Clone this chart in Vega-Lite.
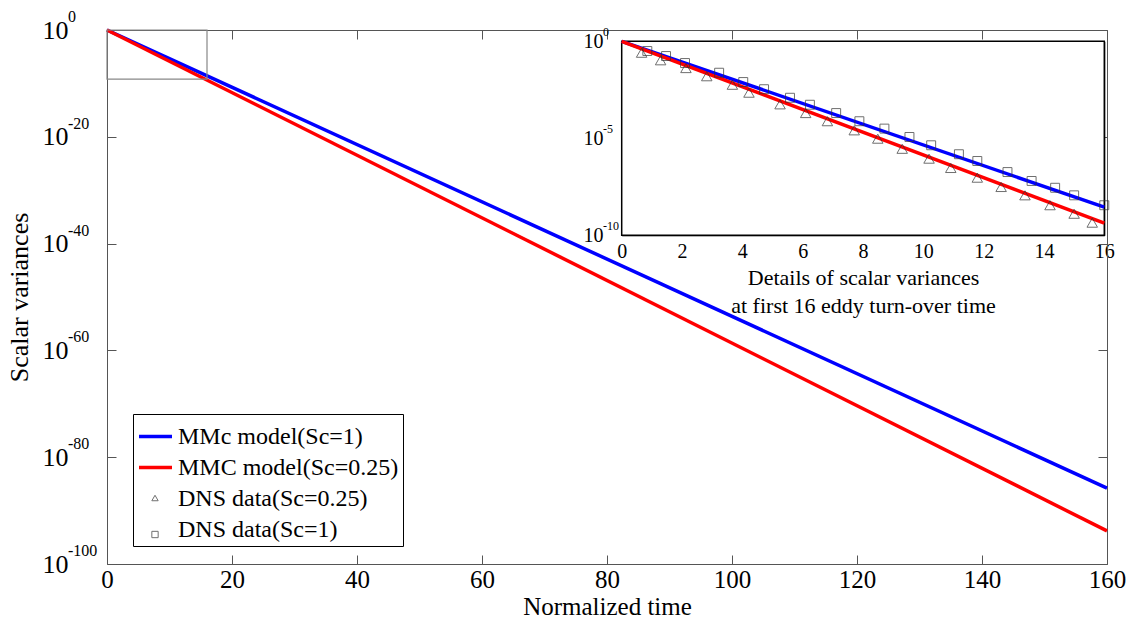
{
  "$schema": "https://vega.github.io/schema/vega-lite/v6.json",
  "width": 1000,
  "height": 534,
  "autosize": {"type": "none"},
  "padding": {"left": 107, "top": 30, "right": 26, "bottom": 58},
  "background": "white",
  "config": {
    "font": "Liberation Serif, Times New Roman, serif",
    "view": {"stroke": null},
    "text": {"font": "Liberation Serif, Times New Roman, serif"},
    "axis": {
      "labelFont": "Liberation Serif, Times New Roman, serif",
      "titleFont": "Liberation Serif, Times New Roman, serif",
      "labelColor": "black",
      "titleColor": "black",
      "titleFontWeight": "normal",
      "grid": false,
      "labelFlush": false,
      "labelOverlap": false
    }
  },
  "resolve": {"scale": {"x": "independent", "y": "independent"}},
  "layer": [
    {
      "layer": [
        {
          "data": {"values": [
            {"series": "MMc model(Sc=1)", "t": 0, "v": 1},
            {"series": "MMc model(Sc=1)", "t": 160, "v": 1.58e-86},
            {"series": "MMC model(Sc=0.25)", "t": 0, "v": 1},
            {"series": "MMC model(Sc=0.25)", "t": 160, "v": 1.58e-94}
          ]},
          "mark": {"type": "line", "strokeWidth": 3.5},
          "encoding": {
            "x": {"field": "t", "type": "quantitative",
              "scale": {"domain": [0, 160], "nice": false, "zero": false},
              "axis": {"orient": "bottom", "values": [0, 20, 40, 60, 80, 100, 120, 140, 160], "format": "d",
                "labelFontSize": 25, "tickSize": -9, "labelPadding": 12,
                "domainColor": "#555", "tickColor": "#555",
                "title": "Normalized time", "titleFontSize": 25, "titlePadding": 2}},
            "y": {"field": "v", "type": "quantitative",
              "scale": {"type": "log", "domain": [1e-100, 1], "nice": false},
              "axis": {"orient": "left", "values": [1, 1e-20, 1e-40, 1e-60, 1e-80, 1e-100],
                "labelFontSize": 26, "tickSize": -9, "labelPadding": 48,
                "domainColor": "#555", "tickColor": "#555",
                "labelExpr": "'10'",
                "title": "Scalar variances", "titleFontSize": 26, "titlePadding": 10}},
            "color": {"field": "series", "type": "nominal",
              "scale": {"domain": ["MMc model(Sc=1)", "MMC model(Sc=0.25)", "DNS data(Sc=0.25)", "DNS data(Sc=1)"],
                "range": ["#0000ff", "#ff0000", "transparent", "transparent"]},
              "legend": {"title": null, "orient": "none", "legendX": 26, "legendY": 384,
                "labelFont": "Liberation Serif, Times New Roman, serif", "labelFontSize": 24, "labelColor": "black", "labelLimit": 500,
                "strokeColor": "black", "fillColor": "white", "padding": 4, "rowPadding": 0, "labelOffset": 4,
                "symbolType": "stroke", "symbolSize": 1089, "symbolStrokeWidth": 3.5}}
          }
        },
        {
          "data": {"values": [
            {"v": 1, "e": "0"},
            {"v": 1e-20, "e": "-20"},
            {"v": 1e-40, "e": "-40"},
            {"v": 1e-60, "e": "-60"},
            {"v": 1e-80, "e": "-80"},
            {"v": 1e-100, "e": "-100"}
          ]},
          "mark": {"type": "text", "align": "left", "baseline": "alphabetic", "dx": -39, "dy": -8, "fontSize": 16, "color": "black"},
          "encoding": {
            "x": {"datum": 0, "type": "quantitative"},
            "y": {"field": "v", "type": "quantitative"},
            "text": {"field": "e"}
          }
        }
      ]
    },
    {
      "data": {"values": [{"t0": 0, "t1": 16, "v0": 1, "v1": 6.3e-10}]},
      "mark": {"type": "rect", "fill": "transparent", "stroke": "#888888", "strokeWidth": 1.2},
      "encoding": {
        "x": {"field": "t0", "type": "quantitative",
          "scale": {"domain": [0, 160], "nice": false, "zero": false},
          "axis": {"orient": "top", "values": [0, 20, 40, 60, 80, 100, 120, 140, 160], "labels": false,
            "tickSize": -9, "domainColor": "#555", "tickColor": "#555", "title": null}},
        "x2": {"field": "t1"},
        "y": {"field": "v0", "type": "quantitative",
          "scale": {"type": "log", "domain": [1e-100, 1], "nice": false},
          "axis": {"orient": "right", "values": [1, 1e-20, 1e-40, 1e-60, 1e-80, 1e-100], "labels": false,
            "tickSize": -9, "domainColor": "#555", "tickColor": "#555", "title": null}},
        "y2": {"field": "v1"}
      }
    },
    {
      "data": {"values": [{"t0": 0, "t1": 16, "v0": 1, "v1": 1e-10}]},
      "mark": {"type": "rect", "fill": "white", "stroke": "black", "strokeWidth": 1.5},
      "encoding": {
        "x": {"field": "t0", "type": "quantitative",
          "scale": {"domain": [0, 16], "nice": false, "zero": false, "range": [514.7, 997.3]},
          "axis": {"orient": "top", "offset": -11.3, "values": [0, 2, 4, 6, 8, 10, 12, 14, 16], "labels": false,
            "tickSize": -5, "domainColor": "black", "tickColor": "black", "title": null}},
        "x2": {"field": "t1"},
        "y": {"field": "v0", "type": "quantitative",
          "scale": {"type": "log", "domain": [1e-10, 1], "nice": false, "range": [205.3, 11.3]},
          "axis": {"orient": "right", "offset": -2.7, "values": [1, 1e-5, 1e-10], "labels": false,
            "tickSize": -5, "domainColor": "black", "tickColor": "black", "title": null}},
        "y2": {"field": "v1"}
      }
    },
    {
      "layer": [
        {
          "data": {"values": [
            {"series": "MMc model(Sc=1)", "t": 0, "v": 1},
            {"series": "MMc model(Sc=1)", "t": 16, "v": 2.82e-9},
            {"series": "MMC model(Sc=0.25)", "t": 0, "v": 1},
            {"series": "MMC model(Sc=0.25)", "t": 16, "v": 4.27e-10}
          ]},
          "mark": {"type": "line", "strokeWidth": 3.5},
          "encoding": {
            "x": {"field": "t", "type": "quantitative"},
            "y": {"field": "v", "type": "quantitative"},
            "color": {"field": "series", "type": "nominal"}
          }
        },
        {
          "data": {"values": [
            {"v": 1, "e": "0"},
            {"v": 1e-5, "e": "-5"},
            {"v": 1e-10, "e": "-10"}
          ]},
          "mark": {"type": "text", "align": "left", "baseline": "alphabetic", "dx": -18.7, "dy": -5, "fontSize": 12, "color": "black"},
          "encoding": {
            "x": {"datum": 0, "type": "quantitative"},
            "y": {"field": "v", "type": "quantitative"},
            "text": {"field": "e"}
          }
        },
        {
          "data": {"values": [
            {"series": "DNS data(Sc=0.25)", "t": 0.66, "v": 0.257},
            {"series": "DNS data(Sc=0.25)", "t": 1.29, "v": 0.105},
            {"series": "DNS data(Sc=0.25)", "t": 2.13, "v": 0.0417},
            {"series": "DNS data(Sc=0.25)", "t": 2.82, "v": 0.0158},
            {"series": "DNS data(Sc=0.25)", "t": 3.67, "v": 0.00575},
            {"series": "DNS data(Sc=0.25)", "t": 4.22, "v": 0.00224},
            {"series": "DNS data(Sc=0.25)", "t": 5.25, "v": 5.62e-4},
            {"series": "DNS data(Sc=0.25)", "t": 6.10, "v": 2.0e-4},
            {"series": "DNS data(Sc=0.25)", "t": 6.82, "v": 7.59e-5},
            {"series": "DNS data(Sc=0.25)", "t": 7.71, "v": 2.57e-5},
            {"series": "DNS data(Sc=0.25)", "t": 8.49, "v": 9.55e-6},
            {"series": "DNS data(Sc=0.25)", "t": 9.30, "v": 2.88e-6},
            {"series": "DNS data(Sc=0.25)", "t": 10.19, "v": 8.91e-7},
            {"series": "DNS data(Sc=0.25)", "t": 10.91, "v": 2.95e-7},
            {"series": "DNS data(Sc=0.25)", "t": 11.79, "v": 9.33e-8},
            {"series": "DNS data(Sc=0.25)", "t": 12.58, "v": 3.09e-8},
            {"series": "DNS data(Sc=0.25)", "t": 13.37, "v": 1.15e-8},
            {"series": "DNS data(Sc=0.25)", "t": 14.20, "v": 3.55e-9},
            {"series": "DNS data(Sc=0.25)", "t": 15.00, "v": 1.29e-9},
            {"series": "DNS data(Sc=0.25)", "t": 15.60, "v": 4.47e-10}
          ]},
          "mark": {"type": "point", "filled": false, "size": 110, "strokeWidth": 1, "color": "#333333"},
          "encoding": {
            "x": {"field": "t", "type": "quantitative"},
            "y": {"field": "v", "type": "quantitative"},
            "shape": {"field": "series", "type": "nominal"}
          }
        },
        {
          "data": {"values": [
            {"series": "DNS data(Sc=1)", "t": 0.85, "v": 0.316},
            {"series": "DNS data(Sc=1)", "t": 1.47, "v": 0.174},
            {"series": "DNS data(Sc=1)", "t": 2.10, "v": 0.0759},
            {"series": "DNS data(Sc=1)", "t": 3.23, "v": 0.0240},
            {"series": "DNS data(Sc=1)", "t": 4.03, "v": 0.00794},
            {"series": "DNS data(Sc=1)", "t": 4.72, "v": 0.00339},
            {"series": "DNS data(Sc=1)", "t": 5.58, "v": 0.00123},
            {"series": "DNS data(Sc=1)", "t": 6.24, "v": 5.37e-4},
            {"series": "DNS data(Sc=1)", "t": 7.11, "v": 2.0e-4},
            {"series": "DNS data(Sc=1)", "t": 7.88, "v": 7.59e-5},
            {"series": "DNS data(Sc=1)", "t": 8.71, "v": 3.16e-5},
            {"series": "DNS data(Sc=1)", "t": 9.54, "v": 1.17e-5},
            {"series": "DNS data(Sc=1)", "t": 10.26, "v": 4.37e-6},
            {"series": "DNS data(Sc=1)", "t": 11.18, "v": 1.51e-6},
            {"series": "DNS data(Sc=1)", "t": 11.79, "v": 6.76e-7},
            {"series": "DNS data(Sc=1)", "t": 12.79, "v": 1.82e-7},
            {"series": "DNS data(Sc=1)", "t": 13.59, "v": 6.31e-8},
            {"series": "DNS data(Sc=1)", "t": 14.37, "v": 2.82e-8},
            {"series": "DNS data(Sc=1)", "t": 15.00, "v": 1.15e-8},
            {"series": "DNS data(Sc=1)", "t": 16.00, "v": 3.55e-9}
          ]},
          "mark": {"type": "point", "filled": false, "size": 80, "strokeWidth": 1, "color": "#333333"},
          "encoding": {
            "x": {"field": "t", "type": "quantitative",
              "scale": {"domain": [0, 16], "nice": false, "zero": false, "range": [514.7, 997.3]},
              "axis": {"orient": "bottom", "offset": -328.7, "values": [0, 2, 4, 6, 8, 10, 12, 14, 16], "format": "d",
                "labelFontSize": 20, "tickSize": -5, "labelPadding": 11,
                "domainColor": "black", "tickColor": "black",
                "title": ["Details of scalar variances", "at first 16 eddy turn-over time"],
                "titleFontSize": 22, "titleLineHeight": 28, "titlePadding": 6}},
            "y": {"field": "v", "type": "quantitative",
              "scale": {"type": "log", "domain": [1e-10, 1], "nice": false, "range": [205.3, 11.3]},
              "axis": {"orient": "left", "offset": -514.7, "values": [1, 1e-5, 1e-10],
                "labelFontSize": 20, "tickSize": -5, "labelPadding": 23.7,
                "domainColor": "black", "tickColor": "black",
                "labelExpr": "'10'",
                "title": null}},
            "shape": {"field": "series", "type": "nominal",
              "scale": {"domain": ["DNS data(Sc=0.25)", "DNS data(Sc=1)"], "range": ["triangle-up", "square"]},
              "legend": {"title": null, "orient": "none", "legendX": 44, "legendY": 464,
                "labelFontSize": 1, "labelOpacity": 0, "labelLimit": 10,
                "strokeColor": "transparent", "fillColor": "transparent", "padding": 0, "rowPadding": 25.5,
                "symbolSize": 40, "symbolStrokeWidth": 1, "symbolStrokeColor": "#333333", "symbolFillColor": "transparent"}}
          }
        }
      ]
    }
  ]
}
